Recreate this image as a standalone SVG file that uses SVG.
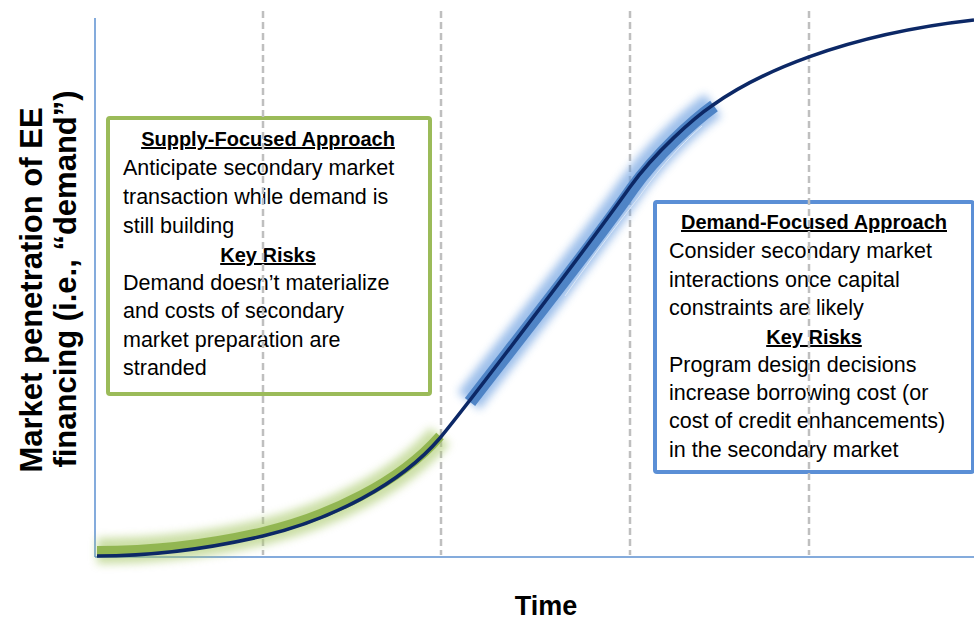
<svg xmlns="http://www.w3.org/2000/svg" width="974" height="620" viewBox="0 0 974 620">
<style>
.body{font-family:"Liberation Sans",Arial,sans-serif;font-size:21.5px;fill:#000}
.title{font-family:"Liberation Sans",Arial,sans-serif;font-size:20px;font-weight:bold;fill:#000;text-decoration:underline;text-anchor:middle}
.axis{font-family:"Liberation Sans",Arial,sans-serif;font-weight:bold;fill:#000;text-anchor:middle}
.grid{stroke:#bfbfbf;stroke-width:2.5;stroke-dasharray:7 4;fill:none}
.ax{stroke:#5b8fd0;stroke-width:1.5;fill:none}
</style>
<defs>
<filter id="glow" x="-30%" y="-30%" width="160%" height="160%"><feGaussianBlur stdDeviation="4.5"/></filter>
</defs>
<rect width="974" height="620" fill="#fff"/>
<g id="axes">
<line class="ax" x1="95" y1="18" x2="95" y2="557"/>
<line class="ax" x1="95" y1="557" x2="974" y2="557"/>
</g>
<g id="supply-box">
<rect x="108" y="118" width="322" height="276" rx="2" fill="#fff" stroke="#9bbb59" stroke-width="4"/>
<text class="title" x="268" y="146">Supply-Focused Approach</text>
<text class="body" x="123" y="175">Anticipate secondary market</text>
<text class="body" x="123" y="204">transaction while demand is</text>
<text class="body" x="123" y="233">still building</text>
<text class="title" x="268" y="262">Key Risks</text>
<text class="body" x="123" y="290">Demand doesn’t materialize</text>
<text class="body" x="123" y="318">and costs of secondary</text>
<text class="body" x="123" y="347">market preparation are</text>
<text class="body" x="123" y="375">stranded</text>
</g>
<g id="demand-box">
<rect x="655" y="202" width="318" height="270" rx="2" fill="#fff" stroke="#5b8fd6" stroke-width="4"/>
<text class="title" x="814" y="229">Demand-Focused Approach</text>
<text class="body" x="669" y="258">Consider secondary market</text>
<text class="body" x="669" y="287">interactions once capital</text>
<text class="body" x="669" y="315">constraints are likely</text>
<text class="title" x="814" y="344">Key Risks</text>
<text class="body" x="669" y="372">Program design decisions</text>
<text class="body" x="669" y="400">increase borrowing cost (or</text>
<text class="body" x="669" y="428">cost of credit enhancements)</text>
<text class="body" x="669" y="457">in the secondary market</text>
</g>
<g id="gridlines">
<line class="grid" x1="263" y1="11" x2="263" y2="555"/>
<line class="grid" x1="441" y1="11" x2="441" y2="555"/>
<line class="grid" x1="630" y1="11" x2="630" y2="555"/>
<line class="grid" x1="809" y1="11" x2="809" y2="555"/>
</g>
<g id="highlights">
<path d="M97,551 C160,551 220,542 263,532 C330,516 400,482 440,436" fill="none" stroke="#a9c96a" stroke-width="26" opacity="0.6" filter="url(#glow)"/>
<path d="M97,551 C160,551 220,542 263,532 C330,516 400,482 440,436" fill="none" stroke="#92b652" stroke-width="10"/>
<path d="M468,400 C500,358 590,245 630,187 C655,152 690,120 712,104" fill="none" stroke="#6a9ee0" stroke-width="28" opacity="0.65" filter="url(#glow)" transform="translate(1,1)"/>
<path d="M468,400 C500,358 590,245 630,187 C655,152 690,120 712,104" fill="none" stroke="#4f84c6" stroke-width="13" transform="translate(2,2)"/>
<path d="M560,293 C590,250 615,218 634,194 C658,160 680,138 697,123" fill="none" stroke="#dce8f7" stroke-width="1" transform="translate(5,3)"/>
</g>
<g id="curve">
<path d="M97,556 C160,556 220,546 263,536 C330,520 400,485 440,438 C465,408 585,250 630,187 C655,152 695,117 713,105 C755,75 840,35 974,20" fill="none" stroke="#0c2866" stroke-width="3.5"/>
</g>
<g id="labels">
<text class="axis" font-size="31" transform="translate(42,290) rotate(-90)">Market penetration of EE</text>
<text class="axis" font-size="31" transform="translate(76,279) rotate(-90)">financing (i.e., “demand”)</text>
<text class="axis" font-size="27" x="546" y="615">Time</text>
</g>
</svg>
